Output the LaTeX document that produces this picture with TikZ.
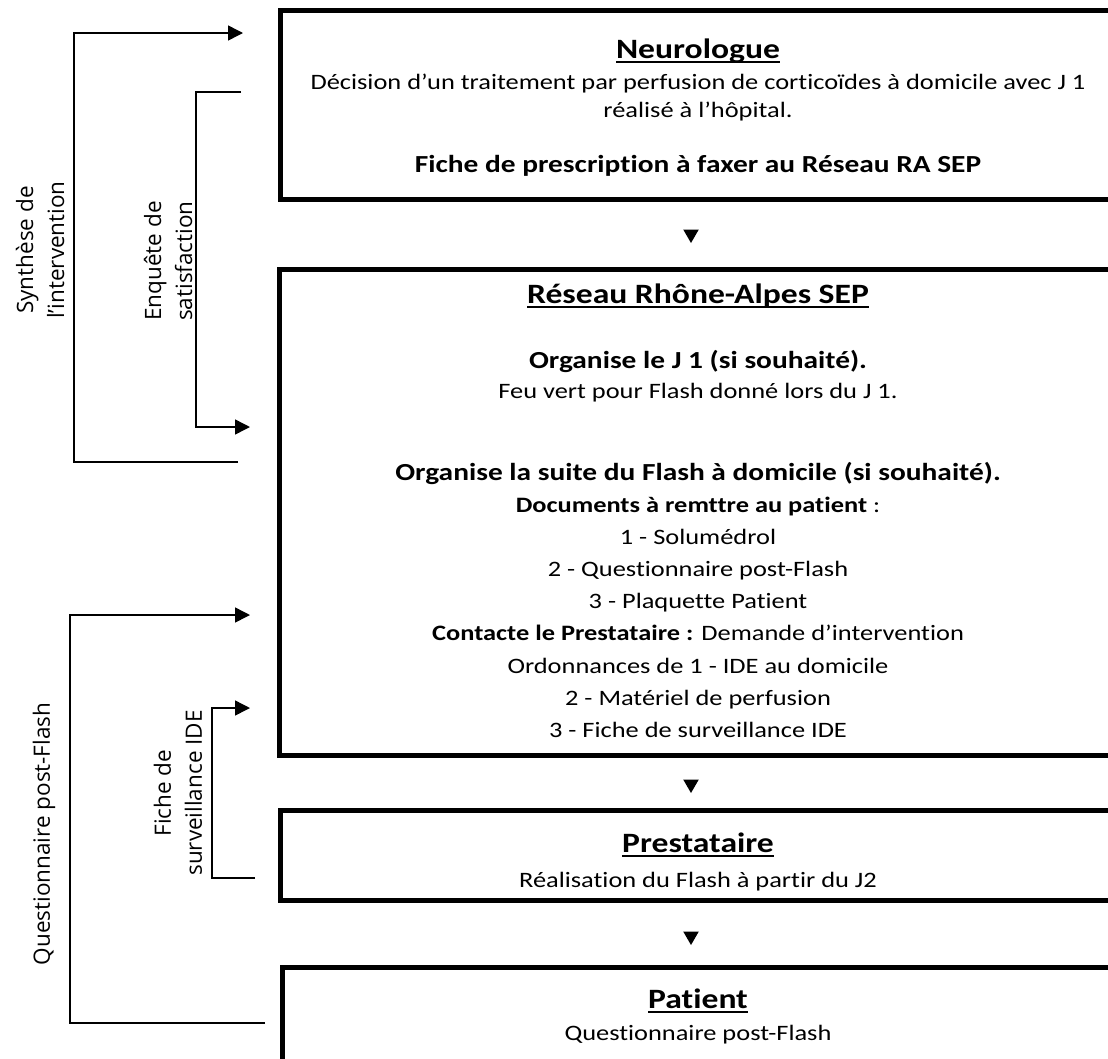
\documentclass[tikz,border=0pt]{standalone}
\usepackage{fontspec}
\setmainfont{Carlito}[FakeStretch=1.2, Ligatures=NoCommon]
\newfontfamily\lblfont{Open Sans}
\usetikzlibrary{arrows.meta,shapes.geometric}
\newcommand\ttlul[1]{\setbox0\hbox{#1}\rlap{\rule[-4.5pt]{\wd0}{1.8pt}}\box0}
\begin{document}
\begin{tikzpicture}[x=1pt,y=-1pt,
  flowbox/.style={draw, line width=5pt, anchor=north west, inner sep=0pt, outer sep=0pt, minimum width=840pt},
  bodytxt/.style={anchor=base, inner sep=0pt, font=\fontsize{22}{26}\selectfont},
  bodybold/.style={anchor=base, inner sep=0pt, font=\fontsize{24.5}{28}\selectfont\bfseries},
  ttlstyle/.style={anchor=base, inner sep=0pt, font=\fontsize{28}{34}\selectfont\bfseries},
  tri/.style={regular polygon, regular polygon sides=3, shape border rotate=180, fill, draw=none, inner sep=0pt, minimum size=18pt},
  conn/.style={line width=1.5pt},
  arr/.style={conn, -{Triangle[length=15pt,width=15pt]}},
  lbl/.style={rotate=90, align=center, inner sep=0pt, font=\lblfont\fontsize{22.5}{31}\selectfont}]
\useasboundingbox (0,0) rectangle (1108,1058);
\clip (0,0) rectangle (1108,1058);

% boxes
\node[flowbox, minimum height=189pt] (neuro) at (280.5,10.5) {};
\node[flowbox, minimum height=486pt] (reseau) at (279.5,269.5) {};
\node[flowbox, minimum height=90pt] (presta) at (280.5,810.5) {};
\node[flowbox, minimum height=130pt] (patient) at (282.5,967.5) {};

% Neurologue
\node[ttlstyle] (n0) at (698,58) {\ttlul{Neurologue}};
\node[bodytxt] (n1) at (698,89) {Décision d’un traitement par perfusion de corticoïdes à domicile avec J 1};
\node[bodytxt] (n2) at (698,117) {réalisé à l’hôpital.};
\node[bodybold] (n3) at (698,172) {Fiche de prescription à faxer au Réseau RA SEP};

% Reseau
\node[ttlstyle] (r0) at (698,303) {\ttlul{Réseau Rhône-Alpes SEP}};
\node[bodybold] (r1) at (698,368) {Organise le J 1 (si souhaité).};
\node[bodytxt] (r2) at (698,398) {Feu vert pour Flash donné lors du J 1.};
\node[bodybold] (r3) at (698,480) {Organise la suite du Flash à domicile (si souhaité).};
\node[bodytxt] (r4) at (698,512) {\textbf{Documents à remttre au patient} :};
\node[bodytxt] (r5) at (698,544) {1 - Solumédrol};
\node[bodytxt] (r6) at (698,576) {2 - Questionnaire post-Flash};
\node[bodytxt] (r7) at (698,608) {3 - Plaquette Patient};
\node[bodytxt] (r8) at (698,640) {\textbf{Contacte le Prestataire :} Demande d’intervention};
\node[bodytxt] (r9) at (698,673) {Ordonnances de 1 - IDE au domicile};
\node[bodytxt] (r10) at (698,705) {2 - Matériel de perfusion};
\node[bodytxt] (r11) at (698,737) {3 - Fiche de surveillance IDE};

% Prestataire
\node[ttlstyle] (p0) at (698,852) {\ttlul{Prestataire}};
\node[bodytxt] (p1) at (698,887) {Réalisation du Flash à partir du J2};

% Patient
\node[ttlstyle] (pa0) at (698,1008) {\ttlul{Patient}};
\node[bodytxt] (pa1) at (698,1040) {Questionnaire post-Flash};

% down triangles
\node[tri] (t1) at (691,234) {};
\node[tri] (t2) at (691,784) {};
\node[tri] (t3) at (691,936) {};

% side connectors
\coordinate (synA) at (238,462);
\coordinate (synB) at (243,33);
\coordinate (synX) at (74,0);
\draw[arr] (synA) -| (synX |- synB) -- (synB);

\coordinate (enqA) at (241,92);
\coordinate (enqB) at (250,427);
\coordinate (enqX) at (196,0);
\draw[arr] (enqA) -| (enqX |- enqB) -- (enqB);

\coordinate (qA) at (265,1023);
\coordinate (qB) at (250,615);
\coordinate (qX) at (70,0);
\draw[arr] (qA) -| (qX |- qB) -- (qB);

\coordinate (fA) at (255,878);
\coordinate (fB) at (250,708);
\coordinate (fX) at (212,0);
\draw[arr] (fA) -| (fX |- fB) -- (fB);

% side labels
\node[lbl] (lsyn) at (40,250) {Synthèse de\\l’intervention};
\node[lbl] (lenq) at (168,261) {Enquête de\\satisfaction};
\node[lbl] (lquest) at (44,834) {Questionnaire post-Flash};
\node[lbl] (lfiche) at (178,793) {Fiche de\\surveillance IDE};
\end{tikzpicture}
\end{document}
